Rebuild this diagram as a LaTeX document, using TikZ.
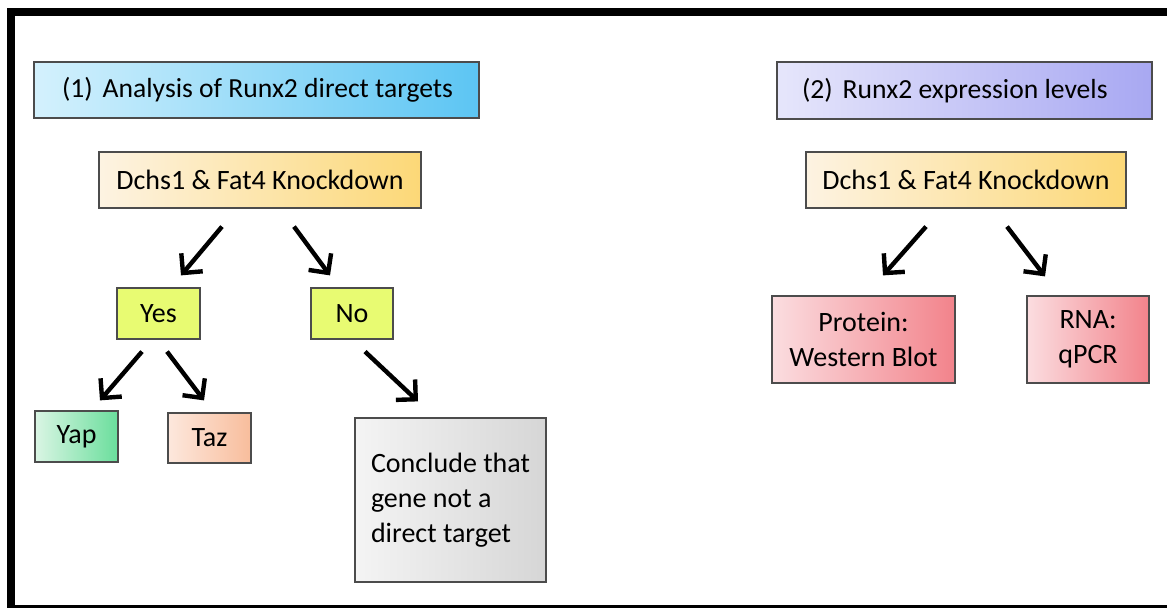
\documentclass[tikz,border=0pt]{standalone}
\usepackage{fontspec}
\setmainfont{Carlito}
\usepackage{tikz}
\usetikzlibrary{arrows.meta,calc}

\definecolor{blueL}{HTML}{D4F1FD}
\definecolor{blueR}{HTML}{5CC5F3}
\definecolor{lavL}{HTML}{E6E6FB}
\definecolor{lavR}{HTML}{A8A8F2}
\definecolor{goldL}{HTML}{FDF3E2}
\definecolor{goldR}{HTML}{FCD877}
\definecolor{lime}{HTML}{E8FB72}
\definecolor{greenL}{HTML}{DAF5E4}
\definecolor{greenR}{HTML}{6ADE9C}
\definecolor{peachL}{HTML}{FDE8DD}
\definecolor{peachR}{HTML}{F8BD9C}
\definecolor{grayL}{HTML}{F4F4F4}
\definecolor{grayR}{HTML}{D6D6D6}
\definecolor{pinkL}{HTML}{FBDDE0}
\definecolor{pinkR}{HTML}{F2838B}

\begin{document}
\begin{tikzpicture}[x=0.5pt,y=-0.5pt,
box/.style 2 args={rectangle,draw=black!70,line width=0.6pt,minimum width=#1*0.5pt,minimum height=#2*0.5pt,inner sep=0pt,font=\fontsize{14}{17.5}\selectfont,align=center},
gbox/.style n args={4}{box={#1}{#2},left color=#3,right color=#4},
headbox/.style={font=\fontsize{13.8}{17}\selectfont},
arr/.style={line width=2.2pt,-{Straight Barb[length=7pt,width=14pt]}}]
\clip (0,0) rectangle (1167,608);
\fill[white] (0,0) rectangle (1167,608);
\draw[line width=4pt] (1180,12) -- (11,12) -- (11,609.5) -- (1180,609.5);
% left part
\node[gbox={445}{56}{blueL}{blueR},headbox] (head1) at (256.5,90) {\makebox[194.5pt][l]{(1)\hspace{5pt}Analysis of Runx2 direct targets}};
\node[gbox={322}{56}{goldL}{goldR}] (kd1) at (260,180) {Dchs1 \& Fat4 Knockdown};
\node[box={83}{51},fill=lime] (yes) at (158.5,313.5) {Yes};
\node[box={82}{51},fill=lime] (no) at (352,313.5) {No};
\node[gbox={83}{51}{greenL}{greenR}] (yap) at (76.5,436.5) {Yap};
\node[gbox={83}{50}{peachL}{peachR}] (taz) at (209.5,438) {Taz};
\node[gbox={191}{164}{grayL}{grayR},align=left] (concl) at (450.5,500) {Conclude that\\gene not a\\direct target};
% right part
\node[gbox={375}{57}{lavL}{lavR},headbox] (head2) at (964.5,90.5) {\makebox[162.5pt][l]{(2)\hspace{5pt}Runx2 expression levels}};
\node[gbox={320}{56}{goldL}{goldR}] (kd2) at (966,180) {Dchs1 \& Fat4 Knockdown};
\node[gbox={183}{87}{pinkL}{pinkR}] (prot) at (863.5,339.5) {Protein:\\Western Blot};
\node[gbox={122}{87}{pinkL}{pinkR}] (rna) at (1088,339.5) {RNA:\\qPCR};
% arrows
\foreach \a/\ax/\ay/\b/\bx/\by in %
{kd1/-38/18/yes/22.5/-12, kd1/34/18/no/-22/-12, yes/-16.5/12/yap/23.5/-10,
 yes/8.5/12/taz/-5.5/-12, no/13/12/concl/-32.5/-16, kd2/-40/18/prot/19.5/-20,
 kd2/41/18/rna/-43/-19} {
   \draw[arr] ($(\a.south)+(\ax,\ay)$) -- ($(\b.north)+(\bx,\by)$);
}
\end{tikzpicture}
\end{document}
